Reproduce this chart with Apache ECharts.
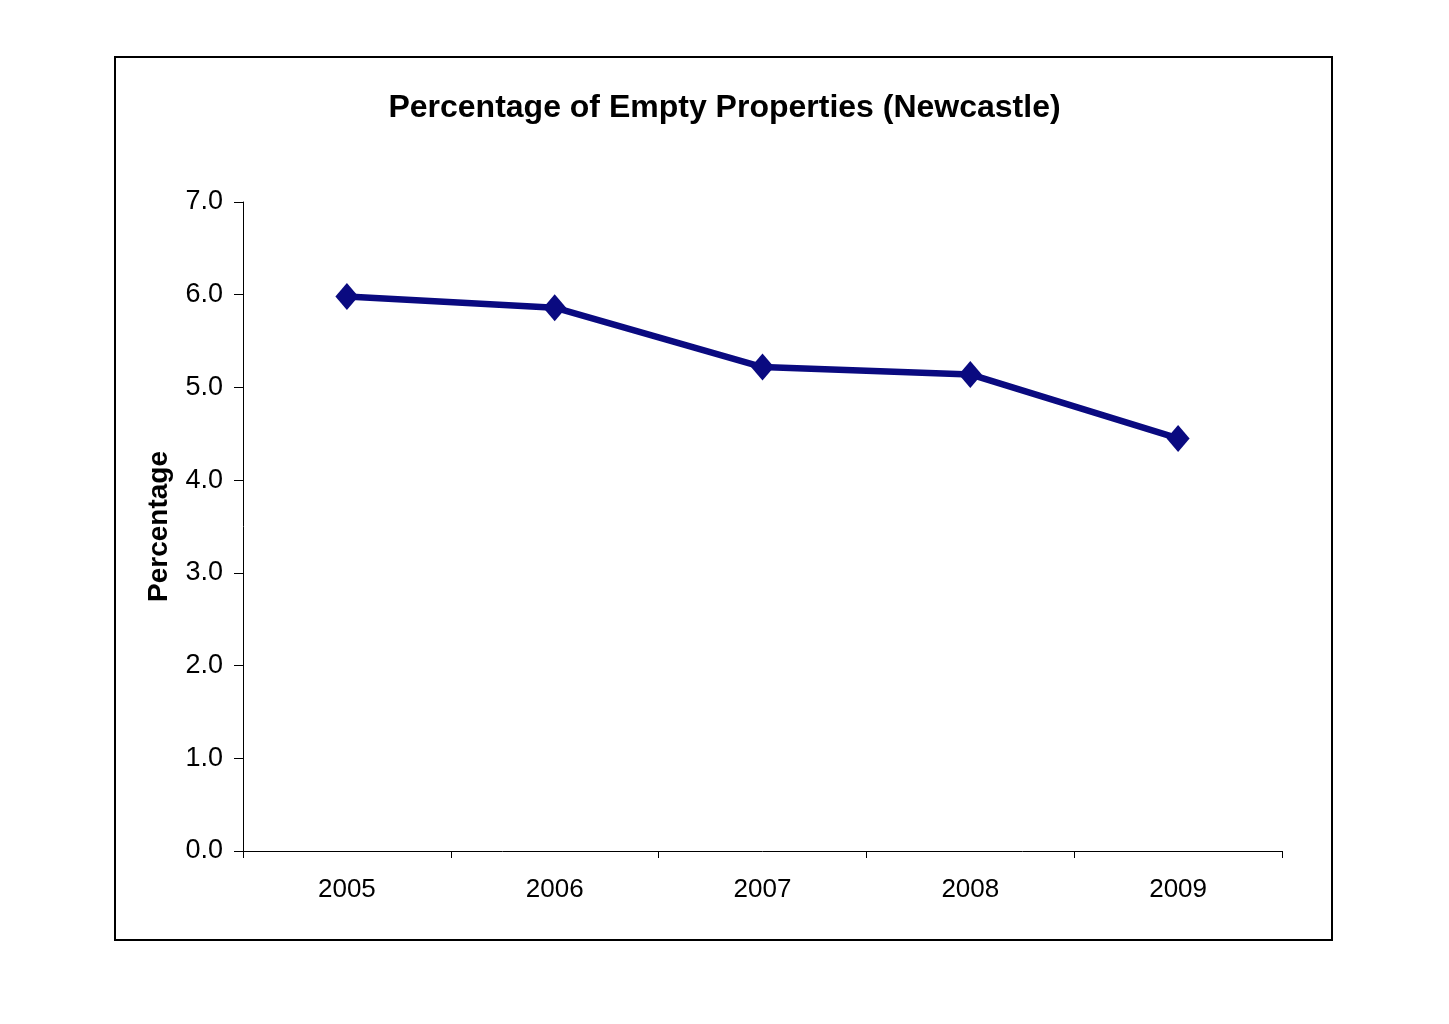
<!DOCTYPE html>
<html>
<head>
<meta charset="utf-8">
<script src="https://cdn.jsdelivr.net/npm/echarts@6/dist/echarts.min.js"></script>
<style>
html,body{margin:0;padding:0;background:#fff;}
#chart{width:1449px;height:1024px;}
</style>
</head>
<body>
<div id="chart"></div>
<script>
const categories = ['2005', '2006', '2007', '2008', '2009'];
const percentages = [5.98, 5.86, 5.22, 5.14, 4.45];
const yTicks = [0, 1, 2, 3, 4, 5, 6, 7];

const chart = echarts.init(document.getElementById('chart'));
const font = 'Liberation Sans, Arial, Helvetica, sans-serif';
chart.setOption({
  backgroundColor: '#ffffff',
  animation: false,
  title: {
    text: 'Percentage of Empty Properties (Newcastle)',
    left: 'center',
    top: 87,
    textStyle: { fontFamily: font, fontSize: 32, fontWeight: 'bold', color: '#000' }
  },
  graphic: [{
    type: 'rect',
    shape: { x: 115, y: 57, width: 1217, height: 883 },
    style: { fill: 'none', stroke: '#000', lineWidth: 2 },
    silent: true
  }],
  grid: { left: 243, right: 167, top: 202, bottom: 173 },
  xAxis: {
    type: 'category',
    data: categories,
    boundaryGap: true,
    axisLine: { lineStyle: { color: '#000', width: 1 } },
    axisTick: { show: true, length: 7, lineStyle: { color: '#000' } },
    axisLabel: { fontFamily: font, fontSize: 26, color: '#000', margin: 26 }
  },
  yAxis: {
    type: 'value',
    min: yTicks[0],
    max: yTicks[yTicks.length - 1],
    interval: 1,
    name: 'Percentage',
    nameLocation: 'middle',
    nameGap: 70,
    nameRotate: 90,
    nameTextStyle: { fontFamily: font, fontSize: 28, fontWeight: 'bold', color: '#000' },
    axisLine: { show: true, lineStyle: { color: '#000', width: 1 } },
    axisTick: { show: true, length: 9, lineStyle: { color: '#000' } },
    splitLine: { show: false },
    axisLabel: { fontFamily: font, fontSize: 27, color: '#000', margin: 20, formatter: v => v.toFixed(1) }
  },
  series: [{
    type: 'line',
    data: percentages,
    symbol: 'diamond',
    symbolSize: [23, 27],
    lineStyle: { color: '#0a0a80', width: 6.5 },
    itemStyle: { color: '#0a0a80' }
  }]
});
</script>
</body>
</html>
